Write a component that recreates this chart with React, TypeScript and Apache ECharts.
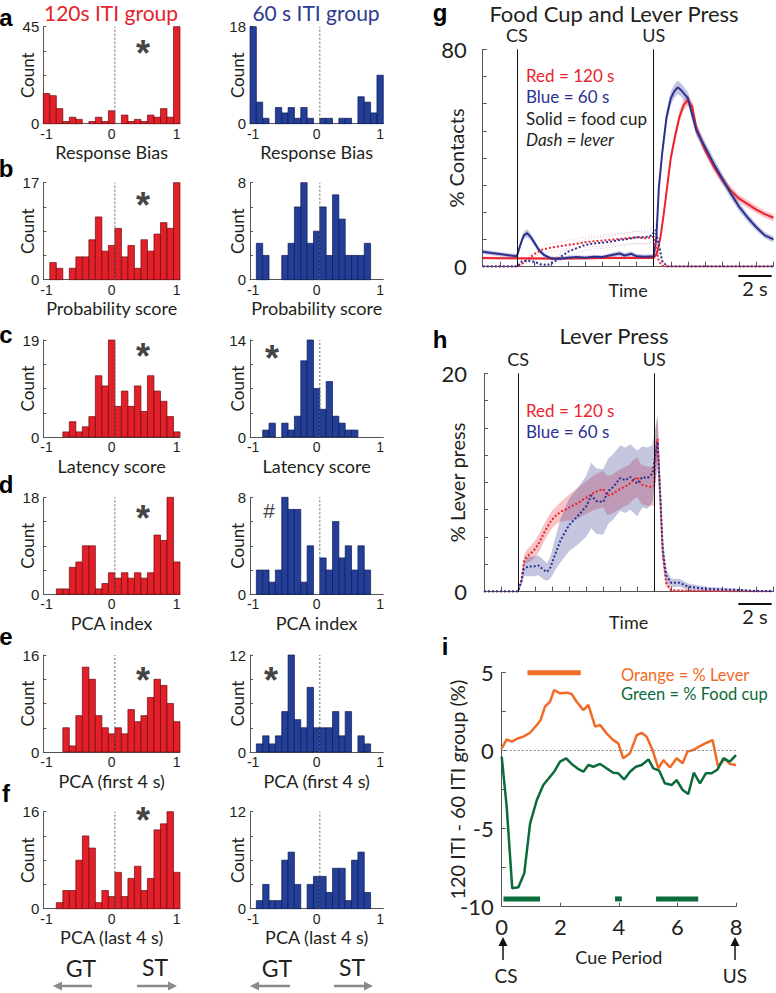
import React, { useEffect, useRef } from "react";
import * as echarts from "echarts";

// ---------- fonts & colours ----------
const SANS = "Lato, 'Noto Sans', sans-serif";
const ARIAL = "'Liberation Sans', Arial, sans-serif";
const INK = "#231f20";
const AXIS = "#555555";
const RED_FILL = "#e3202a";
const RED_EDGE = "#6a0b0d";
const BLUE_FILL = "#243f98";
const BLUE_EDGE = "#0d1a52";
const RED_TXT = "#e2252c";
const BLUE_TXT = "#2d3a92";
const LINE_RED = "#ea2330";
const LINE_BLUE = "#2c3190";
const ORANGE = "#f26b26";
const GREEN = "#0b6b3a";
const GREY_ARROW = "#8a8a8a";

// ---------- histogram data (bins of 0.1, centres -1 .. 1) ----------
const BIN_CENTERS = [-1.0, -0.9, -0.8, -0.7, -0.6, -0.5, -0.4, -0.3, -0.2, -0.1, 0.0, 0.1, 0.2, 0.3, 0.4, 0.5, 0.6, 0.7, 0.8, 0.9, 1.0];
const BIN_WIDTH = 0.1;
const ZERO_LINE = 0.05;

const RED_A = [14, 13, 7, 1, 3, 2, 0, 1, 3, 1, 6, 0, 4, 1, 2, 1, 4, 3, 7, 3, 45];
const RED_B = [0, 3, 2, 0, 2, 4, 4, 7, 11, 5, 6, 9, 4, 6, 2, 7, 5, 8, 10, 9, 17];
const RED_C = [0, 0, 0, 1, 3, 1, 2, 4, 12, 10, 19, 6, 9, 6, 10, 5, 12, 9, 7, 4, 1];
const RED_D = [0, 0, 1, 1, 5, 6, 9, 9, 1, 2, 4, 3, 4, 3, 4, 3, 4, 11, 10, 18, 6];
const RED_E = [0, 0, 0, 4, 1, 6, 14, 12, 6, 4, 3, 4, 3, 7, 5, 6, 9, 12, 11, 8, 5];
const RED_F = [0, 0, 1, 3, 3, 8, 12, 10, 1, 3, 2, 6, 2, 5, 7, 3, 5, 13, 14, 16, 6];

const BLUE_A = [18, 4, 1, 0, 3, 2, 3, 1, 3, 1, 0, 1, 1, 0, 1, 1, 0, 5, 4, 2, 9];
const BLUE_B = [0, 3, 2, 0, 0, 2, 3, 6, 8, 3, 4, 6, 2, 7, 5, 2, 2, 2, 3, 0, 0];
const BLUE_C = [0, 0, 1, 2, 0, 2, 1, 3, 11, 14, 7, 4, 8, 3, 2, 1, 1, 0, 0, 0, 0];
const BLUE_D = [0, 2, 2, 1, 2, 8, 7, 7, 1, 4, 0, 3, 2, 6, 3, 4, 2, 4, 2, 0, 0];
const BLUE_E = [0, 1, 2, 1, 2, 5, 12, 4, 3, 8, 3, 3, 3, 5, 2, 5, 0, 2, 1, 0, 0];
const BLUE_F = [0, 1, 3, 1, 1, 6, 7, 3, 0, 3, 4, 4, 2, 5, 5, 1, 6, 7, 2, 0, 0];

const RED_MAX = [45, 17, 19, 18, 16, 16];
const BLUE_MAX = [18, 8, 14, 8, 12, 12];
const HIST_X_NAMES = ["Response Bias", "Probability score", "Latency score", "PCA index", "PCA (first 4 s)", "PCA (last 4 s)"];
const HIST_X_TICKS = [-1, 0, 1];
const PANEL_LETTERS = ["a", "b", "c", "d", "e", "f"];
const RED_MARKS = ["*", "*", "*", "*", "*", "*"];
const BLUE_MARKS = ["", "", "*", "#", "*", ""];

// ---------- panel g: food cup and lever press (% contacts) ----------
const G_RED_FOOD_T = [-2, -1, 0, 1, 2, 3, 4, 5, 6, 7, 8, 8.2, 8.4, 8.6, 8.8, 9, 9.25, 9.5, 9.75, 10, 10.25, 10.5, 11, 11.5, 12, 12.5, 13, 13.5, 14, 14.5, 15];
const G_RED_FOOD = [3.2, 3.1, 3.1, 3.0, 3.0, 3.0, 3.1, 3.2, 3.2, 3.2, 3.2, 5, 11, 20, 30, 40, 48, 55, 59.5, 61.3, 59, 51, 43, 37, 32, 28, 25, 23, 21, 19.3, 18];
const G_RED_FOOD_SEM = [0.5, 0.5, 0.5, 0.5, 0.5, 0.5, 0.5, 0.5, 0.5, 0.5, 0.5, 0.8, 1.2, 1.5, 1.8, 2, 2, 2, 2, 2, 2, 2, 1.8, 1.7, 1.6, 1.5, 1.4, 1.4, 1.3, 1.3, 1.3];

const G_BLUE_FOOD_T = [-2, -1.5, -1, -0.5, 0, 0.2, 0.4, 0.6, 0.8, 1, 1.3, 1.6, 2, 2.5, 3, 3.5, 4, 4.5, 5, 5.5, 6, 6.3, 6.7, 7, 7.5, 8, 8.15, 8.3, 8.5, 8.75, 9, 9.2, 9.4, 9.6, 9.8, 10, 10.5, 11, 11.5, 12, 12.5, 13, 13.5, 14, 14.5, 15];
const G_BLUE_FOOD = [5.5, 5, 4.6, 4.2, 3.8, 8, 11.5, 12.3, 11, 9, 6, 4.2, 3, 2.9, 3.3, 3.5, 3.3, 3.6, 3.5, 4.2, 4.8, 4.1, 4.7, 3.8, 3.6, 3.8, 10, 29, 42, 55, 62, 64.5, 66, 65, 63.5, 62, 50, 44, 38, 32.5, 27, 22, 18, 14.5, 11.5, 10];
const G_BLUE_FOOD_SEM = [0.8, 0.8, 0.8, 0.8, 0.8, 1, 1.3, 1.5, 1.3, 1.1, 0.9, 0.8, 0.7, 0.7, 0.7, 0.7, 0.7, 0.7, 0.7, 0.8, 0.9, 0.9, 0.9, 0.8, 0.8, 0.8, 1.5, 2, 2.3, 2.5, 2.5, 2.5, 2.5, 2.5, 2.4, 2.3, 2.2, 2.1, 2, 1.9, 1.8, 1.6, 1.5, 1.3, 1.2, 1.1];

const G_RED_LEVER_T = [-2, 0, 0.1, 0.5, 1, 1.5, 2, 2.5, 3, 3.5, 4, 4.5, 5, 5.5, 6, 6.5, 7, 7.5, 8, 8.1, 8.3, 8.5, 8.8, 15];
const G_RED_LEVER = [0, 0, 0, 2, 4.5, 6.3, 7, 7.5, 8, 8.4, 9, 9.3, 9.6, 9.9, 10.2, 10.5, 10.8, 10.4, 11, 8, 2, 0.3, 0, 0];
const G_RED_LEVER_SEM = [0, 0, 0, 0.5, 1, 1.3, 1.5, 1.6, 1.7, 1.8, 1.9, 2, 2, 2, 2.1, 2.1, 2.2, 2.2, 2.3, 1.5, 0.5, 0.1, 0, 0];

const G_BLUE_LEVER_T = [-2, 0, 0.1, 0.3, 0.6, 1, 1.4, 1.8, 2.2, 2.6, 3, 3.5, 4, 4.5, 5, 5.5, 6, 6.5, 7, 7.5, 7.9, 8.1, 8.3, 8.5, 8.8, 15];
const G_BLUE_LEVER = [0, 0, 0.5, 2, 2.2, 1.8, 0.8, 0.6, 1.8, 3.8, 5.5, 6.8, 8, 8.5, 8.8, 9.2, 9.8, 10.2, 10.8, 10.8, 11.5, 13.5, 8, 2, 0, 0];
const G_BLUE_LEVER_SEM = [0, 0, 0.3, 0.6, 0.7, 0.7, 0.6, 0.6, 0.9, 1.3, 1.6, 1.8, 2, 2, 2.1, 2.1, 2.2, 2.2, 2.3, 2.3, 2.4, 2.5, 1.5, 0.5, 0, 0];

// ---------- panel h: lever press ----------
const H_RED_T = [-2, 0, 0.2, 0.35, 0.5, 0.75, 1, 1.25, 1.5, 1.75, 2, 2.25, 2.5, 3, 3.5, 4, 4.5, 5, 5.25, 5.5, 6, 6.5, 6.75, 7, 7.25, 7.5, 7.75, 8, 8.1, 8.2, 8.35, 8.5, 8.7, 9, 15];
const H_RED = [0, 0, 1, 2.8, 3.2, 3.5, 3.9, 4.5, 5.3, 6, 6.6, 7, 7.3, 7.7, 8.1, 8.6, 9.1, 9.4, 8.8, 8.9, 9.4, 9.8, 10.2, 10.5, 9.8, 9.7, 9.6, 9.7, 13, 14, 9, 3.5, 0.8, 0.1, 0];
const H_RED_SEM = [0, 0, 0.3, 0.5, 0.6, 0.7, 0.8, 0.8, 0.8, 0.8, 0.8, 0.8, 0.9, 1.2, 1.4, 1.5, 1.6, 1.7, 1.8, 1.8, 1.8, 1.8, 1.8, 1.8, 1.8, 1.8, 1.8, 1.8, 2, 2, 1.5, 0.8, 0.3, 0.1, 0];

const H_BLUE_T = [-2, 0, 0.2, 0.35, 0.6, 0.9, 1.2, 1.5, 1.7, 1.9, 2.2, 2.5, 3, 3.5, 4, 4.3, 4.6, 5, 5.3, 5.6, 6, 6.3, 6.6, 7, 7.3, 7.6, 7.9, 8.1, 8.2, 8.35, 8.5, 8.7, 9, 9.5, 10, 10.5, 11, 12, 13, 14, 15];
const H_BLUE = [0, 0, 1, 2.1, 2.3, 2.3, 2.4, 2.0, 1.8, 2.2, 3.5, 4.7, 6.1, 6.9, 7.8, 8.8, 8.3, 8.2, 9.2, 9.6, 10.4, 10.2, 10.5, 9.9, 10.5, 10.4, 10.8, 12.8, 13.7, 9, 4, 1.5, 0.8, 0.8, 0.45, 0.35, 0.25, 0.2, 0.15, 0.05, 0.05];
const H_BLUE_SEM = [0, 0, 0.4, 0.7, 0.9, 0.9, 0.9, 0.9, 0.8, 1, 1.5, 2, 2.4, 2.6, 2.8, 3, 3, 3, 3, 3, 3, 3, 3, 3, 2.8, 2.8, 2.6, 2.5, 2.5, 1.5, 1, 0.6, 0.4, 0.35, 0.3, 0.25, 0.2, 0.15, 0.1, 0.05, 0.05];

// ---------- panel i: difference 120 ITI - 60 ITI ----------
const I_T_LEVER = [0, 0.17, 0.34, 0.57, 0.74, 0.97, 1.2, 1.33, 1.48, 1.65, 1.79, 1.99, 2.22, 2.39, 2.56, 2.79, 2.96, 3.19, 3.36, 3.58, 3.81, 3.98, 4.15, 4.38, 4.61, 4.78, 4.95, 5.15, 5.35, 5.52, 5.75, 5.97, 6.18, 6.34, 6.54, 6.77, 7.0, 7.2, 7.39, 7.62, 7.79, 8.0];
const I_LEVER = [0.15, 0.73, 0.58, 0.8, 0.9, 1.15, 1.65, 1.97, 2.82, 3.14, 3.89, 3.68, 3.72, 3.63, 3.14, 2.6, 2.93, 1.54, 1.65, 1.11, 0.68, 0.47, -0.49, -0.17, 1.0, 1.15, 0.9, 0.04, -1.13, -0.6, -1.07, -0.49, -0.81, -0.06, 0.04, 0.3, 0.51, 0.68, -1.03, -0.49, -0.85, -0.92];
const I_T_FOOD = [0, 0.17, 0.36, 0.57, 0.77, 0.97, 1.2, 1.42, 1.65, 1.79, 1.99, 2.2, 2.39, 2.58, 2.79, 2.96, 3.13, 3.36, 3.58, 3.81, 3.98, 4.18, 4.38, 4.58, 4.78, 5.01, 5.18, 5.38, 5.57, 5.8, 5.97, 6.18, 6.37, 6.56, 6.77, 6.97, 7.17, 7.37, 7.57, 7.79, 8.0];
const I_FOOD = [-0.38, -3.59, -8.82, -8.76, -7.86, -4.66, -3.16, -2.2, -1.67, -1.35, -0.7, -0.49, -0.85, -1.13, -1.35, -0.92, -1.03, -0.85, -1.13, -1.41, -1.45, -1.84, -1.35, -1.03, -0.92, -0.56, -1.13, -1.28, -2.09, -2.2, -1.88, -2.52, -2.78, -1.41, -2.09, -1.45, -1.45, -1.2, -0.49, -0.7, -0.28];
const I_SIG_LEVER = [[0.88, 2.7]];
const I_SIG_LEVER_Y = 5;
const I_SIG_FOOD = [[0.06, 1.31], [3.87, 4.1], [5.27, 6.71]];
const I_SIG_FOOD_Y = -9.5;

// ---------- layout ----------
const ROW_TOPS = [26.7, 182.7, 340, 497.3, 655, 811.7];
const HIST_H = 97;
const LEFT_COL = { left: 43.3, width: 136.7 };
const RIGHT_COL = { left: 250, width: 133.3 };

const pairs = (xs: number[], ys: number[]) => xs.map((x, i) => [x, ys[i]]);

function txt(x: number, y: number, text: string, fontSize: number, fill: string, extra: any = {}) {
  const align = extra.align || "center";
  return {
    type: "text",
    x,
    y,
    silent: true,
    style: {
      text,
      fontSize,
      fill,
      fontFamily: extra.fontFamily || SANS,
      fontWeight: extra.fontWeight || "normal",
      fontStyle: extra.fontStyle || "normal",
      align,
      textAlign: align,
      verticalAlign: "middle",
      textVerticalAlign: "middle",
    },
  };
}

function arrow(x1: number, y1: number, x2: number, y2: number, color: string, w: number, head: number) {
  const dx = x2 - x1, dy = y2 - y1;
  const len = Math.sqrt(dx * dx + dy * dy);
  const ux = dx / len, uy = dy / len;
  const bx = x2 - ux * head, by = y2 - uy * head;
  const px = -uy * head * 0.5, py = ux * head * 0.5;
  return [
    { type: "line", silent: true, shape: { x1, y1, x2: bx, y2: by }, style: { stroke: color, lineWidth: w } },
    { type: "polygon", silent: true, shape: { points: [[x2, y2], [bx + px, by + py], [bx - px, by - py]] }, style: { fill: color } },
  ];
}

function buildOption() {
  const grid: any[] = [];
  const xAxis: any[] = [];
  const yAxis: any[] = [];
  const series: any[] = [];

  const addHist = (col: any, top: number, counts: number[], max: number, name: string, fill: string, edge: string, yNameGap: number) => {
    const gi = grid.length;
    grid.push({ left: col.left, top, width: col.width, height: HIST_H });
    xAxis.push({
      type: "value", gridIndex: gi, min: -1.05, max: 1.05,
      axisLine: { show: true, onZero: false, lineStyle: { color: AXIS, width: 1 } },
      axisTick: { show: false },
      splitLine: { show: false },
      axisLabel: { customValues: HIST_X_TICKS, fontSize: 14, fontFamily: ARIAL, color: INK, margin: 3 },
      name, nameLocation: "middle", nameGap: 19.5, nameMoveOverlap: false,
      nameTextStyle: { fontSize: 18, fontFamily: SANS, color: INK },
    });
    yAxis.push({
      type: "value", gridIndex: gi, min: 0, max,
      axisLine: { show: true, onZero: false, lineStyle: { color: AXIS, width: 1 } },
      axisTick: { show: true, inside: true, length: 3, customValues: [0, max / 4, max / 2, (3 * max) / 4, max], lineStyle: { color: AXIS } },
      splitLine: { show: false },
      axisLabel: { customValues: [0, max], fontSize: 15, fontFamily: ARIAL, color: INK, margin: 4 },
      name: "Count", nameLocation: "middle", nameGap: yNameGap, nameRotate: 90, nameMoveOverlap: false,
      nameTextStyle: { fontSize: 17, fontFamily: SANS, color: INK },
    });
    series.push({
      type: "custom", xAxisIndex: gi, yAxisIndex: gi, silent: true, clip: false,
      data: BIN_CENTERS.map((c, i) => [c, counts[i]]),
      renderItem: (_p: any, api: any) => {
        const c = api.value(0);
        const v = api.value(1);
        if (!v) return null;
        const p0 = api.coord([c - BIN_WIDTH / 2, v]);
        const p1 = api.coord([c + BIN_WIDTH / 2, 0]);
        return {
          type: "rect",
          shape: { x: p0[0], y: p0[1], width: p1[0] - p0[0], height: p1[1] - p0[1] },
          style: { fill, stroke: edge, lineWidth: 0.7 },
        };
      },
      z: 2,
    });
    series.push({
      type: "line", xAxisIndex: gi, yAxisIndex: gi, silent: true, symbol: "none",
      data: [[ZERO_LINE, 0], [ZERO_LINE, max]],
      lineStyle: { color: "#666", width: 1, type: [2, 2] },
      z: 5,
    });
  };

  const REDS = [RED_A, RED_B, RED_C, RED_D, RED_E, RED_F];
  const BLUES = [BLUE_A, BLUE_B, BLUE_C, BLUE_D, BLUE_E, BLUE_F];
  for (let r = 0; r < 6; r++) {
    addHist(LEFT_COL, ROW_TOPS[r], REDS[r], RED_MAX[r], HIST_X_NAMES[r], RED_FILL, RED_EDGE, 7);
    addHist(RIGHT_COL, ROW_TOPS[r], BLUES[r], BLUE_MAX[r], HIST_X_NAMES[r], BLUE_FILL, BLUE_EDGE, 4);
  }

  const band = (gi: number, ts: number[], mean: number[], sem: number[], color: string, z: number) => ({
    type: "custom", xAxisIndex: gi, yAxisIndex: gi, silent: true, z,
    data: [[ts[0], mean[0]]],
    renderItem: (_p: any, api: any) => {
      const pts: any[] = [];
      for (let i = 0; i < ts.length; i++) pts.push(api.coord([ts[i], mean[i] + sem[i]]));
      for (let i = ts.length - 1; i >= 0; i--) pts.push(api.coord([ts[i], Math.max(0, mean[i] - sem[i])]));
      return { type: "polygon", shape: { points: pts }, style: { fill: color } };
    },
  });

  const line = (gi: number, data: any[], color: string, width: number, type: any, z: number, opacity = 1) => ({
    type: "line", xAxisIndex: gi, yAxisIndex: gi, silent: true, symbol: "none", data,
    lineStyle: { color, width, type, opacity }, z,
  });

  const csus = {
    silent: true, symbol: "none",
    lineStyle: { color: "#111", width: 1, type: "solid" },
    label: { show: true, position: "end", formatter: (p: any) => p.name, fontSize: 18, fontFamily: SANS, color: INK, distance: 5 },
    data: [{ name: "CS", xAxis: 0 }, { name: "US", xAxis: 8 }],
  };

  const timeAxes = (gi: number, yMax: number, yInt: number, yName: string, xNameGap: number, labelMargin: number) => {
    xAxis.push({
      type: "value", gridIndex: gi, min: -2, max: 15, interval: 1,
      axisLine: { show: true, onZero: false, lineStyle: { color: AXIS } },
      axisTick: { show: true, inside: true, length: 5, lineStyle: { color: AXIS } },
      axisLabel: { show: false }, splitLine: { show: false },
      name: "Time", nameLocation: "middle", nameGap: xNameGap, nameMoveOverlap: false,
      nameTextStyle: { fontSize: 18, fontFamily: SANS, color: INK },
    });
    yAxis.push({
      type: "value", gridIndex: gi, min: 0, max: yMax, interval: yInt,
      axisLine: { show: true, onZero: false, lineStyle: { color: AXIS } },
      axisTick: { show: true, inside: true, length: 4, lineStyle: { color: AXIS } },
      axisLabel: { customValues: [0, yMax], fontSize: 22, fontFamily: SANS, color: INK, margin: labelMargin },
      splitLine: { show: false },
      name: yName, nameLocation: "middle", nameGap: 17, nameRotate: 90, nameMoveOverlap: false,
      nameTextStyle: { fontSize: 20, fontFamily: SANS, color: INK },
    });
  };

  // ---- panel g ----
  const gG = grid.length;
  grid.push({ left: 482.7, top: 49.3, width: 290.7, height: 217.3 });
  timeAxes(gG, 80, 10, "% Contacts", 14, 16);
  series.push(band(gG, G_RED_FOOD_T, G_RED_FOOD, G_RED_FOOD_SEM, "rgba(234,35,48,0.28)", 2));
  series.push(band(gG, G_BLUE_FOOD_T, G_BLUE_FOOD, G_BLUE_FOOD_SEM, "rgba(44,49,144,0.28)", 2));
  const gRedHi = G_RED_LEVER.map((v, i) => v + G_RED_LEVER_SEM[i]);
  const gRedLo = G_RED_LEVER.map((v, i) => Math.max(0, v - G_RED_LEVER_SEM[i]));
  const gBlueHi = G_BLUE_LEVER.map((v, i) => v + G_BLUE_LEVER_SEM[i]);
  const gBlueLo = G_BLUE_LEVER.map((v, i) => Math.max(0, v - G_BLUE_LEVER_SEM[i]));
  series.push(line(gG, pairs(G_RED_LEVER_T, gRedHi), LINE_RED, 1, [1, 2], 3, 0.3));
  series.push(line(gG, pairs(G_RED_LEVER_T, gRedLo), LINE_RED, 1, [1, 2], 3, 0.3));
  series.push(line(gG, pairs(G_BLUE_LEVER_T, gBlueHi), LINE_BLUE, 1, [1, 2], 3, 0.3));
  series.push(line(gG, pairs(G_BLUE_LEVER_T, gBlueLo), LINE_BLUE, 1, [1, 2], 3, 0.3));
  series.push({ ...line(gG, pairs(G_RED_FOOD_T, G_RED_FOOD), LINE_RED, 2, "solid", 4), markLine: csus });
  series.push(line(gG, pairs(G_BLUE_FOOD_T, G_BLUE_FOOD), LINE_BLUE, 2, "solid", 4));
  series.push(line(gG, pairs(G_RED_LEVER_T, G_RED_LEVER), LINE_RED, 2, [2, 2], 4));
  series.push(line(gG, pairs(G_BLUE_LEVER_T, G_BLUE_LEVER), LINE_BLUE, 2, [2, 2], 4));

  // ---- panel h ----
  const gH = grid.length;
  grid.push({ left: 484, top: 373.3, width: 289.3, height: 218.3 });
  timeAxes(gH, 20, 2.5, "% Lever press", 21, 17);
  series.push(band(gH, H_RED_T, H_RED, H_RED_SEM, "rgba(234,35,48,0.28)", 2));
  series.push(band(gH, H_BLUE_T, H_BLUE, H_BLUE_SEM, "rgba(44,49,144,0.28)", 2));
  series.push({ ...line(gH, pairs(H_RED_T, H_RED), LINE_RED, 2, [2, 2], 4), markLine: csus });
  series.push(line(gH, pairs(H_BLUE_T, H_BLUE), LINE_BLUE, 2, [2, 2], 4));

  // ---- panel i ----
  const gI = grid.length;
  grid.push({ left: 501.7, top: 672.7, width: 234.3, height: 234 });
  xAxis.push({
    type: "value", gridIndex: gI, min: 0, max: 8, interval: 2,
    axisLine: { show: true, onZero: false, lineStyle: { color: AXIS } },
    axisTick: { show: true, inside: true, length: 4, lineStyle: { color: AXIS } },
    axisLabel: { fontSize: 22, fontFamily: SANS, color: INK, margin: 9 },
    splitLine: { show: false },
    name: "Cue Period", nameLocation: "middle", nameGap: 41, nameMoveOverlap: false,
    nameTextStyle: { fontSize: 18, fontFamily: SANS, color: INK },
  });
  yAxis.push({
    type: "value", gridIndex: gI, min: -10, max: 5, interval: 2.5,
    axisLine: { show: true, onZero: false, lineStyle: { color: AXIS } },
    axisTick: { show: true, inside: true, length: 4, lineStyle: { color: AXIS } },
    axisLabel: { customValues: [-10, -5, 0, 5], fontSize: 22, fontFamily: SANS, color: INK, margin: 8 },
    splitLine: { show: false },
    name: "120 ITI - 60 ITI group (%)", nameLocation: "middle", nameGap: 35, nameRotate: 90, nameMoveOverlap: false,
    nameTextStyle: { fontSize: 20, fontFamily: SANS, color: INK },
  });
  series.push({
    ...line(gI, pairs(I_T_LEVER, I_LEVER), ORANGE, 2.5, "solid", 4),
    markLine: {
      silent: true, symbol: "none", label: { show: false },
      lineStyle: { color: "#888", width: 1, type: [2, 2] },
      data: [{ yAxis: 0 }],
    },
  });
  series.push(line(gI, pairs(I_T_FOOD, I_FOOD), GREEN, 2.5, "solid", 4));
  const sigSeries = (ranges: number[][], y: number, color: string) => ({
    type: "custom", xAxisIndex: gI, yAxisIndex: gI, silent: true, clip: false, z: 5,
    data: ranges.map((r) => [r[0], r[1], y]),
    renderItem: (_p: any, api: any) => {
      const a = api.coord([api.value(0), api.value(2)]);
      const b = api.coord([api.value(1), api.value(2)]);
      return { type: "rect", shape: { x: a[0], y: a[1] - 2.5, width: b[0] - a[0], height: 5 }, style: { fill: color } };
    },
  });
  series.push(sigSeries(I_SIG_LEVER, I_SIG_LEVER_Y, ORANGE));
  series.push(sigSeries(I_SIG_FOOD, I_SIG_FOOD_Y, GREEN));

  // ---------- graphic annotations ----------
  const graphic: any[] = [];
  graphic.push(txt(111, 12.5, "120s ITI group", 21, RED_TXT));
  graphic.push(txt(316, 12.5, "60 s ITI group", 21, BLUE_TXT));
  const letterBase = [26, 177, 343, 493, 645, 802];
  PANEL_LETTERS.forEach((l, i) => graphic.push(txt(6, letterBase[i] - 8.3, l, 24, "#000", { fontFamily: ARIAL, fontWeight: "bold" })));
  graphic.push(txt(440, 12.5, "g", 24, "#000", { fontFamily: ARIAL, fontWeight: "bold" }));
  graphic.push(txt(440, 339.7, "h", 24, "#000", { fontFamily: ARIAL, fontWeight: "bold" }));
  graphic.push(txt(445, 646.7, "i", 24, "#000", { fontFamily: ARIAL, fontWeight: "bold" }));

  const markOffsets = [18, 14, 8, 13, 17, 0];
  RED_MARKS.forEach((m, i) => {
    if (m) graphic.push(txt(143, ROW_TOPS[i] + markOffsets[i] + 8.3, m, 36, "#444", { fontFamily: ARIAL, fontWeight: "bold" }));
  });
  const blueMarkPos = [null, null, [272, 350], [269, 510.7], [271, 672.5], null] as any[];
  BLUE_MARKS.forEach((m, i) => {
    if (!m) return;
    const p = blueMarkPos[i];
    if (m === "#") graphic.push(txt(p[0], p[1], m, 21, "#444", { fontFamily: ARIAL }));
    else graphic.push(txt(p[0], p[1] + 8.3, m, 36, "#444", { fontFamily: ARIAL, fontWeight: "bold" }));
  });

  // GT / ST
  graphic.push(txt(81, 968, "GT", 23, INK));
  graphic.push(txt(155, 967, "ST", 23, INK));
  graphic.push(txt(277, 968, "GT", 23, INK));
  graphic.push(txt(352, 967, "ST", 23, INK));
  graphic.push(...arrow(92, 986, 53, 986, GREY_ARROW, 2.5, 9));
  graphic.push(...arrow(137, 986, 177, 986, GREY_ARROW, 2.5, 9));
  graphic.push(...arrow(290, 986, 250, 986, GREY_ARROW, 2.5, 9));
  graphic.push(...arrow(334, 986, 373, 986, GREY_ARROW, 2.5, 9));

  // panel g texts
  graphic.push(txt(614, 13, "Food Cup and Lever Press", 22, INK));
  graphic.push(txt(526, 75, "Red = 120 s", 17, LINE_RED, { align: "left" }));
  graphic.push(txt(526, 96.7, "Blue = 60 s", 17, LINE_BLUE, { align: "left" }));
  graphic.push(txt(526, 118.3, "Solid = food cup", 17, INK, { align: "left" }));
  graphic.push(txt(526, 139.3, "Dash = lever", 17, INK, { align: "left", fontStyle: "italic" }));
  graphic.push({ type: "line", silent: true, shape: { x1: 738.3, y1: 276, x2: 771.7, y2: 276 }, style: { stroke: "#111", lineWidth: 2 } });
  graphic.push(txt(755, 288, "2 s", 20, INK));

  // panel h texts
  graphic.push(txt(614, 335.5, "Lever Press", 22, INK));
  graphic.push(txt(526, 410, "Red = 120 s", 17, LINE_RED, { align: "left" }));
  graphic.push(txt(526, 431.7, "Blue = 60 s", 17, LINE_BLUE, { align: "left" }));
  graphic.push({ type: "line", silent: true, shape: { x1: 738.3, y1: 604, x2: 771.7, y2: 604 }, style: { stroke: "#111", lineWidth: 2 } });
  graphic.push(txt(755, 615.5, "2 s", 20, INK));

  // panel i texts
  graphic.push(txt(621, 674.5, "Orange = % Lever", 16.5, ORANGE, { align: "left" }));
  graphic.push(txt(621, 693.5, "Green = % Food cup", 16.5, GREEN, { align: "left" }));
  graphic.push(...arrow(503, 960, 503, 937, "#111", 1.5, 9));
  graphic.push(...arrow(735, 960, 735, 937, "#111", 1.5, 9));
  graphic.push(txt(506, 975, "CS", 19, INK));
  graphic.push(txt(735, 975, "US", 19, INK));

  return { animation: false, backgroundColor: "#fff", grid, xAxis, yAxis, series, graphic };
}

export default function App() {
  const ref = useRef<HTMLDivElement>(null);
  useEffect(() => {
    const chart = echarts.init(ref.current as HTMLDivElement, null, { renderer: "svg" });
    chart.setOption(buildOption() as any);
    return () => chart.dispose();
  }, []);
  return <div ref={ref} style={{ position: "fixed", left: 0, top: 0, width: 776, height: 993, background: "#fff" }} />;
}
